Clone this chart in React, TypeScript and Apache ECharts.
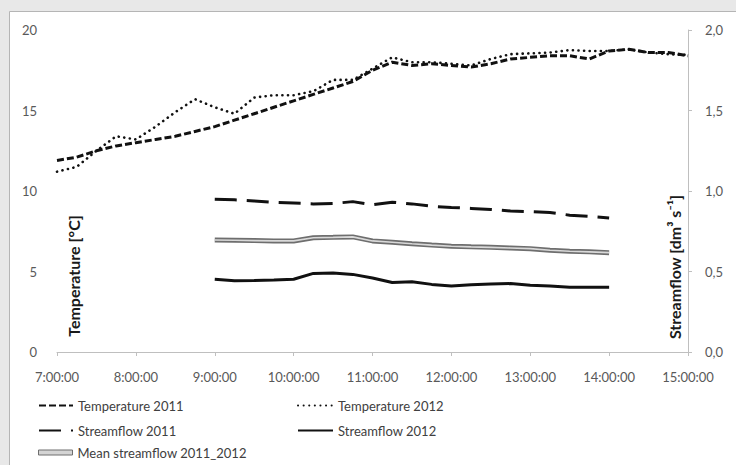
import React, { useEffect, useRef } from 'react';
import * as echarts from 'echarts';

const timeTicks = ['7:00:00', '8:00:00', '9:00:00', '10:00:00', '11:00:00', '12:00:00', '13:00:00', '14:00:00', '15:00:00'];
const tempTicks = ['0', '5', '10', '15', '20'];
const flowTicks = ['0,0', '0,5', '1,0', '1,5', '2,0'];

const tempTimes = ['7:00', '7:15', '7:30', '7:45', '8:00', '8:15', '8:30', '8:45', '9:00', '9:15', '9:30', '9:45', '10:00', '10:15', '10:30', '10:45', '11:00', '11:15', '11:30', '11:45', '12:00', '12:15', '12:30', '12:45', '13:00', '13:15', '13:30', '13:45', '14:00', '14:15', '14:30', '14:45', '15:00'];
const temp2011 = [11.9, 12.1, 12.5, 12.8, 13.0, 13.2, 13.4, 13.7, 14.0, 14.4, 14.8, 15.2, 15.6, 16.0, 16.4, 16.8, 17.5, 18.0, 17.8, 17.9, 17.8, 17.7, 17.9, 18.2, 18.3, 18.4, 18.4, 18.2, 18.7, 18.8, 18.6, 18.6, 18.4];
const temp2012 = [11.2, 11.5, 12.5, 13.4, 13.2, 14.0, 14.9, 15.7, 15.2, 14.8, 15.8, 15.95, 15.95, 16.2, 16.9, 16.9, 17.6, 18.3, 18.0, 18.0, 17.9, 17.8, 18.2, 18.5, 18.55, 18.6, 18.75, 18.7, 18.7, 18.8, 18.6, 18.5, 18.45];

const flowTimes = ['9:00', '9:15', '9:30', '9:45', '10:00', '10:15', '10:30', '10:45', '11:00', '11:15', '11:30', '11:45', '12:00', '12:15', '12:30', '12:45', '13:00', '13:15', '13:30', '13:45', '14:00'];
const flow2011 = [0.948, 0.945, 0.938, 0.93, 0.925, 0.92, 0.922, 0.934, 0.915, 0.93, 0.92, 0.905, 0.898, 0.892, 0.885, 0.876, 0.872, 0.866, 0.85, 0.842, 0.832];
const flow2012 = [0.452, 0.443, 0.444, 0.447, 0.452, 0.488, 0.49, 0.482, 0.46, 0.432, 0.436, 0.42, 0.41, 0.418, 0.422, 0.425, 0.415, 0.41, 0.402, 0.402, 0.402];
const flowMean = [0.696, 0.694, 0.692, 0.69, 0.69, 0.71, 0.712, 0.715, 0.69, 0.682, 0.672, 0.664, 0.657, 0.653, 0.65, 0.646, 0.642, 0.632, 0.626, 0.622, 0.617];

const toHours = (t: string) => {
  const [h, m] = t.split(':').map(Number);
  return h + m / 60;
};
const pairs = (times: string[], vals: number[]) => times.map((t, i) => [toHours(t), vals[i]]);

const FONT = 'Lato, "Liberation Sans", sans-serif';
const LABEL = '#595959';
const AXIS = '#bfbfbf';

export default function App() {
  const ref = useRef<HTMLDivElement>(null);
  useEffect(() => {
    if (!ref.current) return;
    const chart = echarts.init(ref.current, null, { renderer: 'svg' });
    const legendBase = {
      orient: 'horizontal',
      padding: 0,
      itemHeight: 12,
      textStyle: { fontFamily: FONT, fontSize: 13, color: '#404040' },
      itemStyle: { opacity: 0 },
      selectedMode: false,
    };
    chart.setOption({
      animation: false,
      backgroundColor: '#e8e8e8',
      graphic: [
        {
          type: 'rect',
          z: -100,
          shape: { x: 9.5, y: 11.5, width: 760, height: 480 },
          style: { fill: '#ffffff', stroke: '#b5b5b5', lineWidth: 1 },
        },
        {
          type: 'text',
          x: 73,
          y: 276,
          rotation: Math.PI / 2,
          style: {
            text: 'Temperature [°C]',
            align: 'center',
            verticalAlign: 'middle',
            fontFamily: FONT,
            fontSize: 16,
            fontWeight: 'bold',
            fill: '#1a1a1a',
          },
        },
        {
          type: 'text',
          x: 674,
          y: 267,
          rotation: Math.PI / 2,
          style: {
            text: 'Streamflow [dm³ s⁻¹]',
            align: 'center',
            verticalAlign: 'middle',
            fontFamily: FONT,
            fontSize: 16,
            fontWeight: 'bold',
            fill: '#1a1a1a',
          },
        },
      ],
      grid: { left: 57, right: 48, top: 30, bottom: 113, containLabel: false },
      xAxis: {
        type: 'value',
        min: 7,
        max: 15,
        interval: 1,
        axisLine: { show: true, lineStyle: { color: AXIS, width: 1 } },
        axisTick: { show: true, length: 4, lineStyle: { color: AXIS } },
        splitLine: { show: false },
        axisLabel: {
          color: LABEL,
          fontFamily: FONT,
          fontSize: 13,
          margin: 18,
          formatter: (v: number) => timeTicks[Math.round(v) - 7],
        },
      },
      yAxis: [
        {
          type: 'value',
          min: 0,
          max: 20,
          interval: 5,
          axisLine: { show: false },
          axisTick: { show: false },
          splitLine: { show: false },
          axisLabel: {
            color: LABEL,
            fontFamily: FONT,
            fontSize: 13,
            margin: 20,
            formatter: (v: number) => tempTicks[Math.round(v / 5)],
          },
        },
        {
          type: 'value',
          min: 0,
          max: 2,
          interval: 0.5,
          position: 'right',
          axisLine: { show: true, lineStyle: { color: AXIS, width: 1 } },
          axisTick: { show: true, length: 4, lineStyle: { color: AXIS } },
          splitLine: { show: false },
          axisLabel: {
            color: LABEL,
            fontFamily: FONT,
            fontSize: 13,
            margin: 17,
            formatter: (v: number) => flowTicks[Math.round(v * 2)],
          },
        },
      ],
      legend: [
        { ...legendBase, left: 38, top: 399, itemWidth: 34, data: ['Temperature 2011'] },
        { ...legendBase, left: 297, top: 399, itemWidth: 35, data: ['Temperature 2012'] },
        { ...legendBase, left: 38, top: 424, itemWidth: 34, data: ['Streamflow 2011'] },
        { ...legendBase, left: 297, top: 424, itemWidth: 35, data: ['Streamflow 2012'] },
        {
          ...legendBase,
          left: 38,
          top: 446,
          itemWidth: 34,
          itemHeight: 5,
          data: [
            {
              name: 'Mean streamflow 2011_2012',
              icon: 'rect',
              itemStyle: { color: '#d4d4d4', borderColor: '#6e6e6e', borderWidth: 1, opacity: 1 },
            },
          ],
        },
      ],
      series: [
        {
          name: 'Temperature 2011',
          type: 'line',
          yAxisIndex: 0,
          symbol: 'none',
          data: pairs(tempTimes, temp2011),
          lineStyle: { color: '#111', width: 3, type: [7, 3] },
          itemStyle: { color: '#111' },
          z: 3,
        },
        {
          name: 'Temperature 2012',
          type: 'line',
          yAxisIndex: 0,
          symbol: 'none',
          data: pairs(tempTimes, temp2012),
          lineStyle: { color: '#111', width: 2.6, type: [0.1, 5.5], cap: 'round' },
          itemStyle: { color: '#111' },
          z: 3,
        },
        {
          name: 'Streamflow 2011',
          type: 'line',
          yAxisIndex: 1,
          symbol: 'none',
          data: pairs(flowTimes, flow2011),
          lineStyle: { color: '#111', width: 3, type: [22, 10] },
          itemStyle: { color: '#111' },
        },
        {
          name: 'Streamflow 2012',
          type: 'line',
          yAxisIndex: 1,
          symbol: 'none',
          data: pairs(flowTimes, flow2012),
          lineStyle: { color: '#111', width: 3 },
          itemStyle: { color: '#111' },
        },
        {
          name: 'Mean streamflow 2011_2012',
          type: 'line',
          yAxisIndex: 1,
          symbol: 'none',
          data: pairs(flowTimes, flowMean),
          lineStyle: { color: '#6e6e6e', width: 5 },
          itemStyle: { color: '#6e6e6e' },
        },
        {
          name: 'meanInner',
          type: 'line',
          yAxisIndex: 1,
          symbol: 'none',
          data: pairs(flowTimes, flowMean),
          lineStyle: { color: '#d9d9d9', width: 1.6 },
          itemStyle: { color: '#d9d9d9' },
          z: 4,
        },
      ],
    });
    return () => chart.dispose();
  }, []);
  return <div ref={ref} style={{ position: 'absolute', left: 0, top: 0, width: 736, height: 465 }} />;
}
